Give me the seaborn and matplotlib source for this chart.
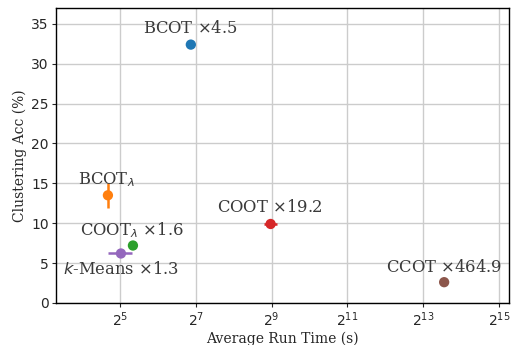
import numpy as np
import pandas as pd
import matplotlib
matplotlib.use('Agg')
import matplotlib.pyplot as plt
import seaborn as sns

# Values
methods = ['BCOT', 'BCOT_lam', 'COOT_lam', 'COOT', 'kMeans', 'CCOT']
labels = ['BCOT $\\times$4.5', 'BCOT$_\\lambda$', 'COOT$_\\lambda$ $\\times$1.6',
          'COOT $\\times$19.2', '$k$-Means $\\times$1.3', 'CCOT $\\times$464.9']
run_time = [117, 25.7, 40.6, 503, 32.6, 12000]
acc = [32.4, 13.5, 7.2, 9.9, 6.2, 2.6]
acc_err = [0, 1.6, 0, 0, 0, 0]
time_lo = [117, 25.7, 40.6, 443, 25.7, 12000]
time_hi = [117, 25.7, 40.6, 570, 40.0, 12000]
# label offsets in pixels from the point
offsets = [(-1, 16), (-2, 16), (-1, 15), (-1, 16), (0, -16), (0, 15)]

df = pd.DataFrame({'method': methods, 'time': run_time, 'acc': acc})
colors = sns.color_palette('tab10', len(methods))

sns.set_style('ticks')
plt.rcParams['font.family'] = 'DejaVu Sans'

fig, ax = plt.subplots(figsize=(5.11, 3.45), dpi=100)

for i in range(len(methods)):
    xerr = [[run_time[i] - time_lo[i]], [time_hi[i] - run_time[i]]]
    if acc_err[i] > 0 or time_hi[i] > time_lo[i]:
        ax.errorbar(run_time[i], acc[i], yerr=acc_err[i] if acc_err[i] > 0 else None,
                    xerr=xerr if time_hi[i] > time_lo[i] else None,
                    fmt='none', ecolor=colors[i], elinewidth=1.8, zorder=3)

sns.scatterplot(data=df, x='time', y='acc', hue='method', palette=colors,
                s=55, edgecolor='none', legend=False, ax=ax, zorder=4)

for i in range(len(methods)):
    ax.annotate(labels[i], (run_time[i], acc[i]), xytext=offsets[i],
                textcoords='offset pixels', ha='center', va='center',
                fontsize=11.8, family='DejaVu Serif', color='#3a3a3a')

ax.set_xscale('log', base=2)
ax.set_xlim(2 ** 3.32, 2 ** 15.26)
ax.set_ylim(0, 37)
ax.set_xticks([2 ** 5, 2 ** 7, 2 ** 9, 2 ** 11, 2 ** 13, 2 ** 15])
ax.set_yticks([0, 5, 10, 15, 20, 25, 30, 35])
ax.minorticks_off()
ax.grid(True, color='#cccccc', linewidth=1)
ax.set_axisbelow(True)
ax.tick_params(labelsize=10, length=3, pad=2.5)
ax.set_xlabel('Average Run Time (s)', family='DejaVu Serif', fontsize=10, labelpad=2)
ax.set_ylabel('Clustering Acc (%)', family='DejaVu Serif', fontsize=10, labelpad=3)
for sp in ax.spines.values():
    sp.set_color('black')
    sp.set_linewidth(1)

fig.subplots_adjust(left=0.11, right=0.996, top=0.977, bottom=0.122)
fig.savefig('out.png', dpi=100)
